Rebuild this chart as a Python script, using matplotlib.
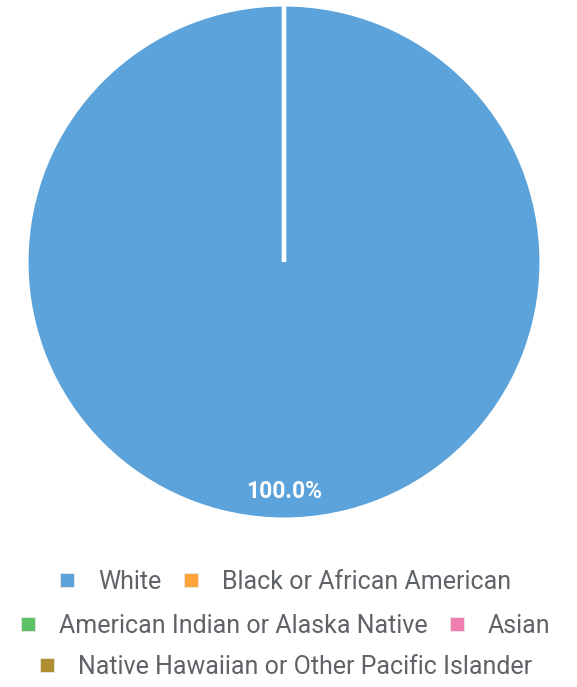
import matplotlib.pyplot as plt
from matplotlib.lines import Line2D

categories = ["White", "Black or African American", "American Indian or Alaska Native",
              "Asian", "Native Hawaiian or Other Pacific Islander"]
values = [100.0, 0.0, 0.0, 0.0, 0.0]
colors = ["#5ba3da", "#ffa33a", "#5dc166", "#f07cb0", "#b08f2f"]
legend_rows = [[0, 1], [2, 3], [4]]

plt.rcParams['font.family'] = ['Roboto', 'DejaVu Sans']

fig = plt.figure(figsize=(5.77, 6.87), dpi=100)
ax = fig.add_axes([28 / 577, (687 - 518) / 687, 512 / 577, 512 / 687])

wedges, texts, autotexts = ax.pie(
    values, colors=colors, startangle=90, counterclock=False,
    autopct=lambda p: f"{p:.1f}%" if p > 0 else "",
    pctdistance=0.89, radius=1.006,
    wedgeprops=dict(edgecolor="white", linewidth=3),
    textprops=dict(color="white", fontsize=16.5, fontweight="bold"))
ax.set_xlim(-1, 1)
ax.set_ylim(-1, 1)
ax.set_aspect("equal")

# legend, one centred row at a time (centred under the pie)
row_y = [582, 626, 667]
for row, y in zip(legend_rows, row_y):
    handles = [Line2D([], [], marker="s", linestyle="none", markersize=10,
                      markerfacecolor=colors[i], markeredgecolor="#e8e8e8",
                      markeredgewidth=0.6) for i in row]
    fig.legend(handles, [categories[i] for i in row], loc="center",
               bbox_to_anchor=(283 / 577, 1 - y / 687), ncol=len(row), frameon=False,
               fontsize=18, labelcolor="#5f6368", handletextpad=0.75,
               columnspacing=0.67, borderpad=0, handlelength=1.0)

fig.savefig("out.png", dpi=100)
